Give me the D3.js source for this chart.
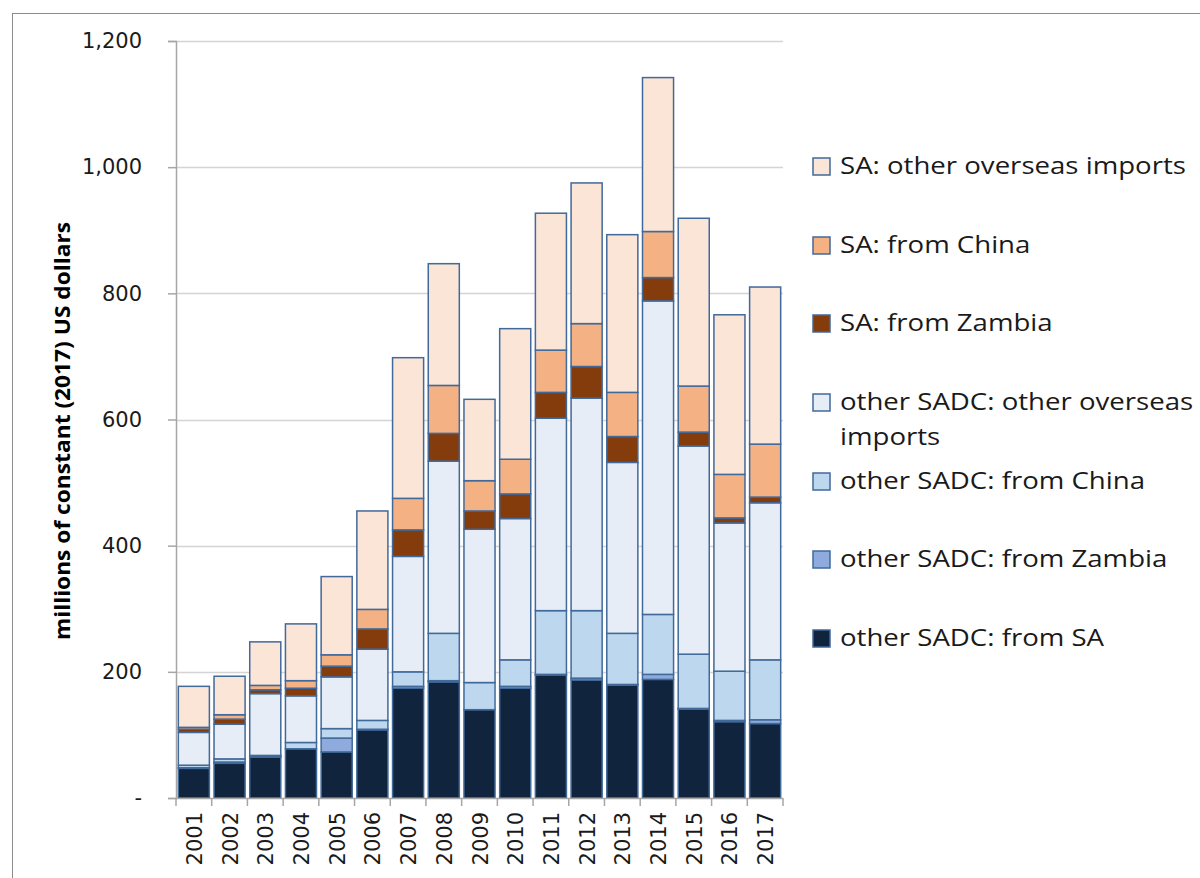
<!DOCTYPE html>
<html><head><meta charset="utf-8">
<script src="https://cdn.jsdelivr.net/npm/d3@7"></script>
<style>body{margin:0;background:#fff}svg{display:block}</style>
</head><body>
<svg id="c" width="1200" height="878"></svg>
<script>
const years = ["2001","2002","2003","2004","2005","2006","2007","2008","2009","2010","2011","2012","2013","2014","2015","2016","2017"];
const otherSadcFromSA      = [47,55,65,78,73,108,174,184,140,174,195,187,179,188,141,121,118];
const otherSadcFromZambia  = [1,2,0.5,0,22,1,3,2,0,3,1,3,1,8,1,2,6];
const otherSadcFromChina   = [4,5,2,10,15,14,23,75,43,42,101,107,81,95,86,78,95];
const otherSadcOverseas    = [52,55,98,74,82,113,183,273,243,224,305,337,271,497,330,235,249];
const saFromZambia         = [5,8,6,12,17,32,42,44,29,39,41,50,41,37,22,8,9];
const saFromChina          = [3,7,7,12,18,31,50,76,48,55,67,68,70,73,73,69,84];
const saOverseas           = [65,61,69,90,124,156,223,193,129,207,217,223,250,244,266,253,249];
const yTicks = [0,200,400,600,800,1000,1200];

const seriesNames = ["other SADC: from SA","other SADC: from Zambia","other SADC: from China",
  "other SADC: other overseas imports","SA: from Zambia","SA: from China","SA: other overseas imports"];
const seriesVals = [otherSadcFromSA,otherSadcFromZambia,otherSadcFromChina,otherSadcOverseas,saFromZambia,saFromChina,saOverseas];
const colors = ["#10243e","#8faadc","#bdd7ee","#e7edf7","#843c0c","#f4b183","#fbe5d6"];

const svg = d3.select("#c");
// frame
svg.append("line").attr("x1",12).attr("x2",1200).attr("y1",13.5).attr("y2",13.5).attr("stroke","#8c8c8c");
svg.append("line").attr("x1",12.5).attr("x2",12.5).attr("y1",13).attr("y2",878).attr("stroke","#8c8c8c");

const x = d3.scaleBand().domain(years).range([176,783]).paddingInner(0.13).paddingOuter(0.065);
const y = d3.scaleLinear().domain([0,1200]).range([798,41]);

// gridlines
svg.append("g").selectAll("line").data(yTicks.filter(d=>d>0)).join("line")
  .attr("x1",176).attr("x2",783).attr("y1",d=>Math.round(y(d))+0.5).attr("y2",d=>Math.round(y(d))+0.5)
  .attr("stroke","#d4d4d4").attr("stroke-width",1.5);

// stack
const table = years.map((yr,i)=>{const o={year:yr}; seriesNames.forEach((s,j)=>o[s]=seriesVals[j][i]); return o;});
const stacked = d3.stack().keys(seriesNames)(table);
svg.append("g").selectAll("g").data(stacked).join("g")
  .attr("fill",(d,i)=>colors[i])
  .selectAll("rect").data(d=>d).join("rect")
  .attr("x",d=>x(d.data.year)).attr("width",x.bandwidth())
  .attr("y",d=>y(d[1])).attr("height",d=>y(d[0])-y(d[1]))
  .attr("stroke","#41699a").attr("stroke-width",1.5);

// y axis
const yAxis = d3.axisLeft(y).tickValues(yTicks).tickSize(8).tickPadding(26)
  .tickFormat(d=>d===0?"-":d3.format(",")(d));
const ga = svg.append("g").attr("transform","translate(176,0)").call(yAxis);
ga.select(".domain").attr("stroke","#a6a6a6").attr("stroke-width",1.5);
ga.selectAll(".tick line").attr("stroke","#a6a6a6").attr("stroke-width",1.5);
ga.selectAll("text").attr("font-family","DejaVu Sans").attr("font-size",21).attr("fill","#1a1a1a");

// x axis
const gx = svg.append("g");
gx.append("line").attr("x1",176).attr("x2",783).attr("y1",798.5).attr("y2",798.5).attr("stroke","#a6a6a6").attr("stroke-width",1.5);
const step = x.step();
gx.selectAll("line.t").data(d3.range(years.length+1)).join("line").attr("class","t")
  .attr("x1",i=>176+i*step).attr("x2",i=>176+i*step).attr("y1",798).attr("y2",806)
  .attr("stroke","#a6a6a6").attr("stroke-width",1.5);
gx.selectAll("text").data(years).join("text")
  .attr("transform",d=>`translate(${x(d)+x.bandwidth()/2+8},812) rotate(-90)`)
  .attr("text-anchor","end").attr("font-family","DejaVu Sans").attr("font-size",21).attr("fill","#1a1a1a")
  .text(d=>d);

// y title
svg.append("text").attr("transform","translate(70,431) rotate(-90)")
  .attr("text-anchor","middle").attr("font-family","Liberation Sans Narrow, Open Sans, sans-serif")
  .attr("font-weight","bold").attr("font-size",21).attr("fill","#000")
  .attr("textLength",418).attr("lengthAdjust","spacingAndGlyphs")
  .text("millions of constant (2017) US dollars");

// legend
const legendItems = [
  {i:6, lines:["SA: other overseas imports"], y:166},
  {i:5, lines:["SA: from China"], y:245},
  {i:4, lines:["SA: from Zambia"], y:323},
  {i:3, lines:["other SADC: other overseas","imports"], y:402},
  {i:2, lines:["other SADC: from China"], y:481},
  {i:1, lines:["other SADC: from Zambia"], y:559},
  {i:0, lines:["other SADC: from SA"], y:638}
];
const lg = svg.append("g");
legendItems.forEach(it=>{
  lg.append("rect").attr("x",813).attr("y",it.y-8).attr("width",17).attr("height",17)
    .attr("fill",colors[it.i]).attr("stroke","#41699a").attr("stroke-width",1.5);
  it.lines.forEach((t,k)=>{
    lg.append("text").attr("transform",`translate(840,${it.y+35*k}) scale(1.2,1)`).attr("dy","0.36em")
      .attr("font-family","Open Sans").attr("font-size",23).attr("fill","#1a1a1a").text(t);
  });
});
</script>
</body></html>
